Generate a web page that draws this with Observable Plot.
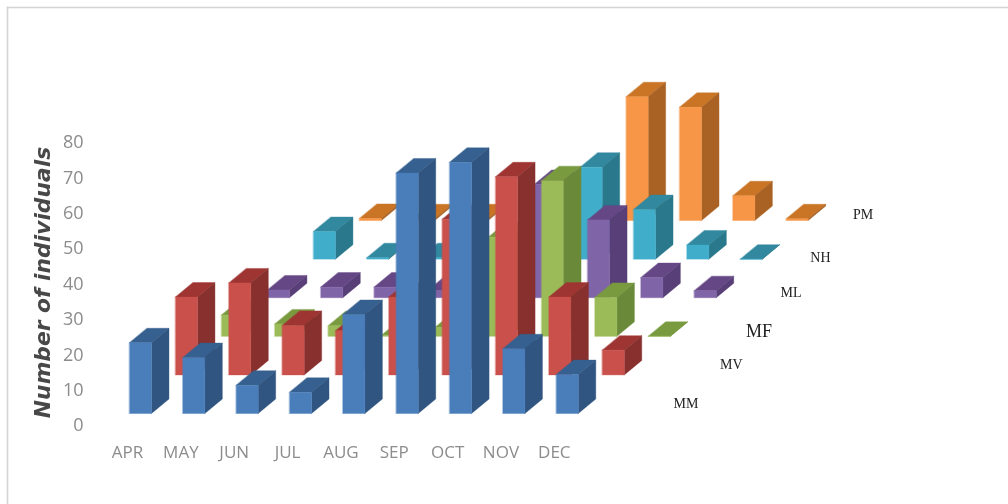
<!DOCTYPE html>
<html><head><meta charset="utf-8">
<script src="https://cdn.jsdelivr.net/npm/d3@7"></script>
<script src="https://cdn.jsdelivr.net/npm/@observablehq/plot@0.6"></script>
<style>html,body{margin:0;padding:0;background:#fff;overflow:hidden}svg{display:block;filter:blur(0.6px)}</style>
</head><body><div id="chart"></div>
<script>
const months = ["APR","MAY","JUN","JUL","AUG","SEP","OCT","NOV","DEC"];
const seriesNames = ["MM","MV","MF","ML","NH","PM"];
const MM = [20,15.8,8,6,28,68,71,18.3,11];
const MV = [22,26,14,12.5,22,44,56,22,7];
const MF = [6,3.5,3,0.3,2.5,28,44,11,0];
const ML = [2.2,3,3,2,1,32,22,5.7,2];
const NH = [7.8,0.4,0.4,0,0,26,14,4,0];
const PM = [0.6,0.5,0.5,0.5,0.5,35,32,7,0.5];
const yTicks = [0,10,20,30,40,50,60,70,80];
const frontColors = ["#4a7ebb","#c9504b","#9bbb59","#8064a8","#40aecb","#f79646"];
const sideColors  = ["#2f5580","#87302d","#6a8a3a","#583f78","#29788c","#aa6224"];
const topColors   = ["#35608f","#9e3532","#7a9a40","#654785","#31889f","#c97525"];
const seriesLabelX = [10.43,11.28,11.8,12.4,12.95,13.75];
const seriesLabelY = [6.2,17.2,26.6,37.5,47.4,59.6];
const seriesLabelSize = [14,14,18,14,14,14];

// oblique projection, expressed in scale units (months across, individuals up)
const barW = 0.412, depthX = 0.328, depthY = 4.1, stepX = 0.862, stepY = 10.91, floorY = 3.39;
const values = [MM,MV,MF,ML,NH,PM];
const faces = [];
let id = 0;
for (let s = values.length - 1; s >= 0; s--) {
  values[s].forEach((v, m) => {
    const x0 = m + s*stepX, x1 = x0 + barW, y0 = floorY + s*stepY, y1 = y0 + v;
    const face = (color, pts) => { id++; pts.forEach(([x,y]) => faces.push({id, color, x, y})); };
    face(topColors[s], [[x0,y1],[x1,y1],[x1+depthX,y1+depthY],[x0+depthX,y1+depthY]]);
    face(sideColors[s], [[x1,y0],[x1+depthX,y0+depthY],[x1+depthX,y1+depthY],[x1,y1]]);
    face(frontColors[s], [[x0,y0],[x1,y0],[x1,y1],[x0,y1]]);
  });
}
const labels = seriesNames.map((name,i)=>({name,x:seriesLabelX[i],y:seriesLabelY[i],size:seriesLabelSize[i]}));

const chart = Plot.plot({
  width:1008, height:504, margin:0,
  style:{background:"#fff"},
  x:{domain:[-2.418,16.476], range:[0,1008], axis:null},
  y:{domain:[-22.33,120.14], range:[504,0], axis:null},
  color:{type:"identity"},
  marks:[
    Plot.frame({anchor:"left",stroke:"#d4d4d4",strokeWidth:1.6,insetLeft:7,insetTop:7}),
    Plot.frame({anchor:"top",stroke:"#d4d4d4",strokeWidth:1.6,insetLeft:7,insetTop:7}),
    Plot.line(faces,{x:"x",y:"y",z:"id",fill:"color",stroke:"color",strokeWidth:0.4,curve:"linear-closed"}),
    Plot.axisY(yTicks,{anchor:"left",tickSize:0,tickPadding:0,dx:83,fontSize:18,color:"#8c8c8c",label:null,fontFamily:"Open Sans"}),
    Plot.axisX(months.map((d,i)=>i),{anchor:"bottom",tickSize:0,tickPadding:0,dx:-2,dy:-59,fontSize:17,color:"#8c8c8c",label:null,fontFamily:"Open Sans",tickFormat:i=>months[i]}),
    Plot.text(labels,{x:"x",y:"y",text:"name",fontSize:"size",fill:"#222",fontFamily:"Liberation Serif"}),
    Plot.text(["Number of individuals"],{frameAnchor:"left",textAnchor:"middle",dx:43,dy:30,rotate:-90,fontSize:21.8,fontWeight:"bold",fontStyle:"italic",fill:"#484848",fontFamily:"DejaVu Sans"})
  ]
});
document.getElementById("chart").append(chart);
</script></body></html>
